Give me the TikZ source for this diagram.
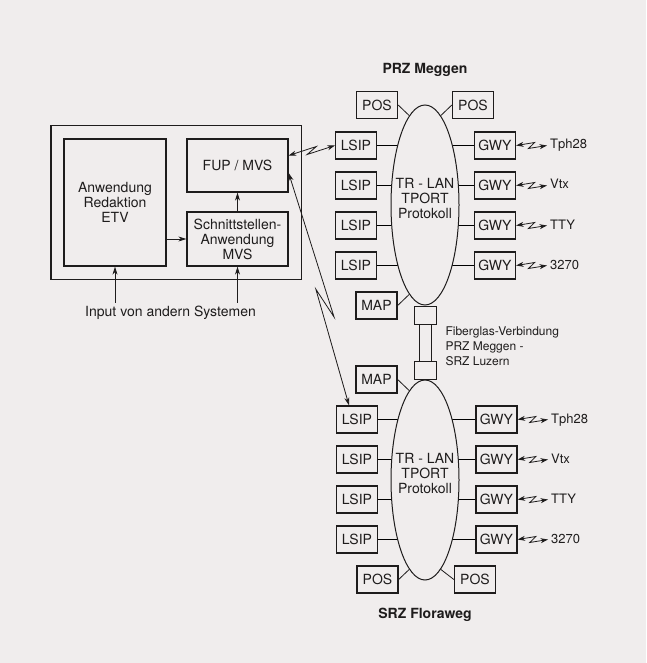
\documentclass[tikz,border=0pt]{standalone}
\usepackage{fontspec}
\setmainfont{TeX Gyre Heros}
\usetikzlibrary{arrows.meta,positioning,calc,shapes.geometric,fit,backgrounds}
\definecolor{paper}{RGB}{240,237,237}
\definecolor{ink}{RGB}{30,28,28}

\begin{document}
\begin{tikzpicture}[x=1pt,y=-1pt,
  font=\fontsize{14}{15}\selectfont, color=ink,
  box/.style={draw,line width=1.3pt,fill=paper,minimum width=41pt,
              minimum height=27pt,inner sep=2pt},
  big/.style={draw,line width=1.3pt,align=center,inner sep=2pt},
  lan/.style={draw,ellipse,line width=1pt,fill=paper,minimum width=68pt,
              minimum height=200pt,inner sep=0pt},
  fiber/.style={draw,line width=0.9pt,minimum width=22pt,minimum height=18pt,inner sep=0pt},
  link/.style={line width=0.8pt},
  arr/.style={line width=0.8pt,-{Stealth[length=8pt,width=5pt]}},
  dbl/.style={line width=0.8pt,{Stealth[length=8pt,width=5pt]}-{Stealth[length=8pt,width=5pt]}},
  zap/.style={line width=0.8pt,{Stealth[length=7.5pt,width=5pt]}-{Stealth[length=7.5pt,width=5pt]},
              to path={-- ($(\tikztostart)!0.6!(\tikztotarget)+(0,-3)$)
                       -- ($(\tikztostart)!0.4!(\tikztotarget)+(0,3)$) -- (\tikztotarget)}},
  ext/.style={font=\fontsize{13}{15}\selectfont,anchor=west,inner sep=3pt,
              text height=9.5pt,text depth=2.5pt}]
\useasboundingbox (0,0) rectangle (646,663);
\begin{scope}[on background layer]
  \fill[paper] (0,0) rectangle (646,663);
\end{scope}

% ---- host side ----
\node[big,minimum width=102pt,minimum height=127pt] (anwend) at (115,202.5) {Anwendung\\Redaktion\\ETV};
\node[big,minimum width=101pt,minimum height=53pt] (fup) at (237.5,165.5) {FUP / MVS};
\node[big,minimum width=101pt,minimum height=54pt] (schnitt) at (237.5,239) {Schnittstellen-\\Anwendung\\MVS};
\node[draw,line width=1.3pt,fit=(anwend)(fup)(schnitt),inner sep=12.5pt] (sys) {};
\node (input) at (170.5,313) {Input von andern Systemen};
\draw[arr] (input.north -| anwend.south) -- (anwend.south);
\draw[arr] (input.north -| schnitt.south) -- (schnitt.south);
\draw[arr] (anwend.east |- schnitt) -- (schnitt.west);
\draw[arr] (schnitt.north) -- (fup.south);

% ---- PRZ Meggen ----
\node[font=\bfseries\fontsize{14}{15}\selectfont] (przA) at (425,70) {PRZ Meggen};
\node[lan] (lanA) at (425,205) {};
\node[align=center] (lanAtxt) at (425,199) {TR - LAN\\TPORT\\Protokoll};
\node[box] (posA1) at (377,105) {POS};
\node[box] (posA2) at (473,105) {POS};
\node[box] (mapA) at (376.5,305.5) {MAP};
\draw[link] (posA1.east) -- (lanA.100);
\draw[link] (posA2.west) -- (lanA.80);
\draw[link] (mapA.east) -- (lanA.260);
\foreach \i/\y/\t in {1/145.5/Tph28,2/185.5/Vtx,3/225.5/TTY,4/265.5/3270}{
  \node[box] (lsipA\i) at (356,\y) {LSIP};
  \node[box] (gwyA\i) at (495,\y) {GWY};
  \node[ext] (extA\i) at (547,\y) {\t};
  \begin{scope}[on background layer]
    \draw[link] (lsipA\i.east) -- (lsipA\i.east -| lanA.center);
    \draw[link] (gwyA\i.west) -- (gwyA\i.west -| lanA.center);
  \end{scope}
  \draw[zap] (gwyA\i.east) to (extA\i.west);
}

% ---- Fiberglas link ----
\node[fiber,anchor=north] (fibA) at (lanA.south) {};
\node[lan] (lanB) at (425,480) {};
\node[fiber,anchor=south] (fibB) at (lanB.north) {};
\draw[line width=0.9pt] ([xshift=-6pt]fibA.south) -- ([xshift=-6pt]fibB.north);
\draw[line width=0.9pt] ([xshift=6pt]fibA.south) -- ([xshift=6pt]fibB.north);
\node[anchor=west,align=left,font=\fontsize{12}{15}\selectfont] (fibtxt) at (442,346)
  {Fiberglas-Verbindung\\PRZ Meggen -\\SRZ Luzern};

% ---- SRZ Floraweg ----
\node[align=center] (lanBtxt) at (425,473) {TR - LAN\\TPORT\\Protokoll};
\node[box] (mapB) at (376.5,379.5) {MAP};
\node[box] (posB1) at (377.5,579.5) {POS};
\node[box] (posB2) at (475,579.5) {POS};
\draw[link] (mapB.east) -- (lanB.100);
\draw[link] (posB1.east) -- (lanB.260);
\draw[link] (posB2.west) -- (lanB.280);
\foreach \i/\y/\t in {1/419.5/Tph28,2/459.5/Vtx,3/499.5/TTY,4/539.5/3270}{
  \node[box] (lsipB\i) at (357,\y) {LSIP};
  \node[box] (gwyB\i) at (496.5,\y) {GWY};
  \node[ext] (extB\i) at (548,\y) {\t};
  \begin{scope}[on background layer]
    \draw[link] (lsipB\i.east) -- (lsipB\i.east -| lanB.center);
    \draw[link] (gwyB\i.west) -- (gwyB\i.west -| lanB.center);
  \end{scope}
  \draw[zap] (gwyB\i.east) to (extB\i.west);
}
\node[font=\bfseries\fontsize{14}{15}\selectfont] (srzB) at (425,615) {SRZ Floraweg};

% ---- links host <-> LAN ----
\draw[zap] ([yshift=10pt]fup.east) to (lsipA1.west);
\coordinate (la) at ([yshift=-7.5pt]fup.east);
\coordinate (lb) at ([xshift=-8pt]lsipB1.north);
\draw[dbl] (la) -- ($(la)!0.62!(lb)+(8,0)$) -- ($(la)!0.5!(lb)+(-3,0)$) -- (lb);
\end{tikzpicture}
\end{document}
